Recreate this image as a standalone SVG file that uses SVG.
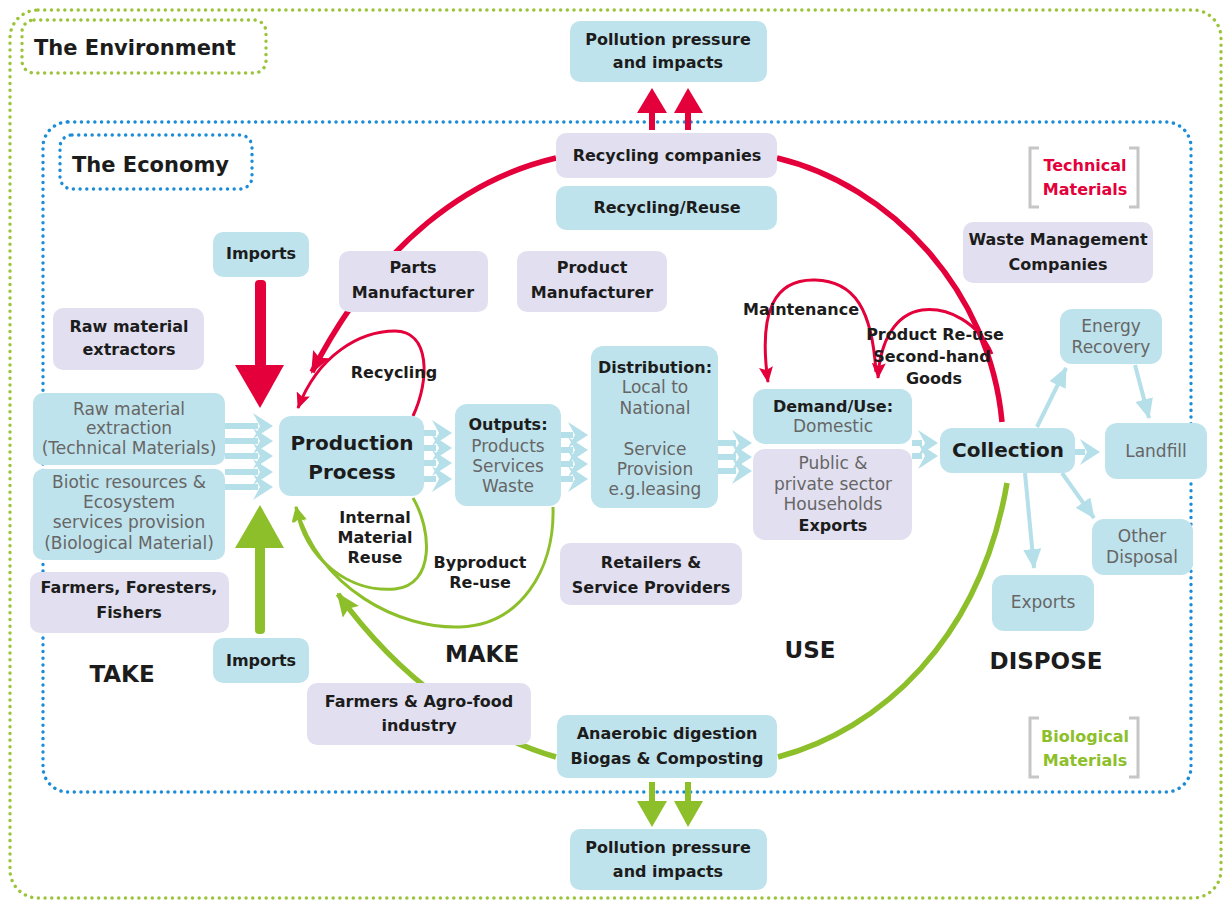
<svg xmlns="http://www.w3.org/2000/svg" xmlns:xlink="http://www.w3.org/1999/xlink" width="1229" height="901" viewBox="0 0 1229 901">
  <style>
    .b { font-family: "DejaVu Sans", "Liberation Sans", sans-serif; font-weight: bold; font-size: 16px; fill: #1c1c1c; text-anchor: middle; }
    .g { font-family: "DejaVu Sans", "Liberation Sans", sans-serif; font-size: 17px; fill: #666666; text-anchor: middle; }
    .big { font-family: "DejaVu Sans", "Liberation Sans", sans-serif; font-weight: bold; font-size: 23px; fill: #1c1c1c; text-anchor: middle; }
    .title { font-family: "DejaVu Sans", "Liberation Sans", sans-serif; font-weight: bold; font-size: 21px; fill: #1c1c1c; }
    .lb { fill: #bfe3ec; }
    .lv { fill: #e2e0f0; }
    .dotg { fill: none; stroke: #9cc43a; stroke-width: 3.4; stroke-linecap: round; stroke-dasharray: 0.1 6.6; }
    .dotb { fill: none; stroke: #1a8cd8; stroke-width: 3.4; stroke-linecap: round; stroke-dasharray: 0.1 6.6; }
    .redT { fill: none; stroke: #e4003a; stroke-width: 5.5; }
    .redt { fill: none; stroke: #e4003a; stroke-width: 3; }
    .grnT { fill: none; stroke: #8dbf2a; stroke-width: 5.5; }
    .grnt { fill: none; stroke: #8dbf2a; stroke-width: 3; }
    .blu { fill: none; stroke: #b5dfe9; stroke-width: 4; }
    .chev { fill: #b5dfe9; }
    .brk { fill: none; stroke: #c6c6c6; stroke-width: 3; }
  </style>
  <defs>
    <polygon id="chev" class="chev" points="0,-13 20,0 0,13 7,0"/>
    <marker id="mRedT" markerUnits="userSpaceOnUse" viewBox="0 0 22 18" markerWidth="22" markerHeight="18" refX="20" refY="9" orient="auto">
      <path d="M0,0 L22,9 L0,18 L4,9 z" fill="#e4003a"/>
    </marker>
    <marker id="mRedt" markerUnits="userSpaceOnUse" viewBox="0 0 16 14" markerWidth="16" markerHeight="14" refX="15" refY="7" orient="auto">
      <path d="M0,0 L16,7 L0,14 L3,7 z" fill="#e4003a"/>
    </marker>
    <marker id="mGrnT" markerUnits="userSpaceOnUse" viewBox="0 0 24 20" markerWidth="24" markerHeight="20" refX="22" refY="10" orient="auto">
      <path d="M0,0 L24,10 L0,20 L4,10 z" fill="#8dbf2a"/>
    </marker>
    <marker id="mGrnt" markerUnits="userSpaceOnUse" viewBox="0 0 16 14" markerWidth="16" markerHeight="14" refX="15" refY="7" orient="auto">
      <path d="M0,0 L16,7 L0,14 L3,7 z" fill="#8dbf2a"/>
    </marker>
    <marker id="mBlu" markerUnits="userSpaceOnUse" viewBox="0 0 20 18" markerWidth="20" markerHeight="18" refX="19" refY="9" orient="auto">
      <path d="M0,0 L20,9 L0,18 z" fill="#b5dfe9"/>
    </marker>
  </defs>

  <rect width="1229" height="901" fill="#ffffff"/>

  <!-- nested system boundaries -->
  <g id="boundaries">
    <rect class="dotg" x="10" y="10" width="1211" height="888" rx="28"/>
    <rect class="dotg" x="22" y="20" width="244" height="53" rx="12"/>
    <text class="title" x="34" y="55">The Environment</text>
    <rect class="dotb" x="43" y="122" width="1148" height="670" rx="25"/>
    <rect class="dotb" x="60" y="135" width="192" height="54" rx="12"/>
    <text class="title" x="72" y="172">The Economy</text>
  </g>

  <!-- material flows -->
  <g id="connectors">
    <!-- technical cycle -->
    <path class="redT" d="M556,158 C470,178 380,240 312,372" marker-end="url(#mRedT)"/>
    <path class="redT" d="M777,158 C890,185 990,290 1002,422"/>
    <path class="redt" d="M413,416 C430,380 430,331 395,331 C360,331 318,355 298,408" marker-end="url(#mRedt)"/>
    <path class="redt" d="M876,372 C872,310 855,281 815,280 C775,279 758,310 768,382" marker-end="url(#mRedt)"/>
    <path class="redt" d="M992,354 C978,322 948,307 922,310 C896,314 880,340 878,378" marker-end="url(#mRedt)"/>
    <!-- imports of technical materials -->
    <rect x="255" y="280" width="11" height="88" rx="4" fill="#e4003a"/>
    <polygon points="235,365 284,365 260,408" fill="#e4003a"/>
    <!-- emissions from recycling -->
    <rect x="649" y="110" width="6" height="20" fill="#e4003a"/>
    <rect x="685" y="110" width="6" height="20" fill="#e4003a"/>
    <polygon points="637,113 652,88 667,113" fill="#e4003a"/>
    <polygon points="674,113 688,88 703,113" fill="#e4003a"/>

    <!-- biological cycle -->
    <path class="grnT" d="M556,757 C480,735 400,680 338,594" marker-end="url(#mGrnT)"/>
    <path class="grnT" d="M778,757 C880,730 980,640 1007,483"/>
    <path class="grnt" d="M413,498 C432,530 435,585 395,589 C350,593 305,560 296,507" marker-end="url(#mGrnt)"/>
    <path class="grnt" d="M553,507 C555,570 520,625 460,627 C400,629 320,590 296,507" marker-end="url(#mGrnt)"/>
    <!-- imports of biological materials -->
    <rect x="255" y="545" width="10" height="89" rx="4" fill="#8dbf2a"/>
    <polygon points="235,548 260,505 284,548" fill="#8dbf2a"/>
    <!-- emissions from digestion -->
    <rect x="649" y="782" width="6" height="22" fill="#8dbf2a"/>
    <rect x="685" y="782" width="6" height="22" fill="#8dbf2a"/>
    <polygon points="637,801 667,801 652,827" fill="#8dbf2a"/>
    <polygon points="674,801 703,801 688,827" fill="#8dbf2a"/>

    <!-- stacked chevron flows along the chain -->
    <g class="chev">
      <rect x="225" y="423" width="33" height="6"/>
      <rect x="225" y="438" width="33" height="6"/>
      <rect x="225" y="453" width="33" height="6"/>
      <rect x="225" y="469" width="33" height="6"/>
      <rect x="225" y="484" width="33" height="6"/>
      <use xlink:href="#chev" x="253" y="426"/>
      <use xlink:href="#chev" x="253" y="441"/>
      <use xlink:href="#chev" x="253" y="456"/>
      <use xlink:href="#chev" x="253" y="472"/>
      <use xlink:href="#chev" x="253" y="487"/>

      <rect x="424" y="430" width="12" height="6"/>
      <rect x="424" y="445" width="12" height="6"/>
      <rect x="424" y="460" width="12" height="6"/>
      <rect x="424" y="476" width="12" height="6"/>
      <use xlink:href="#chev" x="432" y="433"/>
      <use xlink:href="#chev" x="432" y="448"/>
      <use xlink:href="#chev" x="432" y="463"/>
      <use xlink:href="#chev" x="432" y="479"/>

      <rect x="561" y="432" width="12" height="6"/>
      <rect x="561" y="447" width="12" height="6"/>
      <rect x="561" y="461" width="12" height="6"/>
      <rect x="561" y="476" width="12" height="6"/>
      <use xlink:href="#chev" x="568" y="435"/>
      <use xlink:href="#chev" x="568" y="450"/>
      <use xlink:href="#chev" x="568" y="464"/>
      <use xlink:href="#chev" x="568" y="479"/>

      <rect x="718" y="440" width="18" height="6"/>
      <rect x="718" y="454" width="18" height="6"/>
      <rect x="718" y="468" width="18" height="6"/>
      <use xlink:href="#chev" x="732" y="443"/>
      <use xlink:href="#chev" x="732" y="457"/>
      <use xlink:href="#chev" x="732" y="471"/>

      <rect x="912" y="440" width="10" height="6"/>
      <rect x="912" y="453" width="10" height="6"/>
      <use xlink:href="#chev" x="918" y="443"/>
      <use xlink:href="#chev" x="918" y="456"/>

      <rect x="1075" y="449" width="10" height="6"/>
      <use xlink:href="#chev" x="1080" y="452"/>
    </g>

    <!-- end-of-life routes -->
    <line class="blu" x1="1037" y1="427" x2="1066" y2="368" marker-end="url(#mBlu)"/>
    <line class="blu" x1="1135" y1="365" x2="1149" y2="418" marker-end="url(#mBlu)"/>
    <line class="blu" x1="1062" y1="473" x2="1094" y2="518" marker-end="url(#mBlu)"/>
    <line class="blu" x1="1025" y1="473" x2="1034" y2="568" marker-end="url(#mBlu)"/>
  </g>

  <!-- actors and stages -->
  <g id="pollution-top">
    <rect class="lb" x="570" y="21" width="197" height="61" rx="10"/>
    <text class="b" x="668" y="45">Pollution pressure</text>
    <text class="b" x="668" y="68">and impacts</text>
  </g>
  <g id="recycling-companies">
    <rect class="lv" x="556" y="133" width="221" height="45" rx="10"/>
    <text class="b" x="667" y="161">Recycling companies</text>
  </g>
  <g id="recycling-reuse">
    <rect class="lb" x="556" y="186" width="221" height="44" rx="10"/>
    <text class="b" x="667" y="213">Recycling/Reuse</text>
  </g>
  <g id="parts-manufacturer">
    <rect class="lv" x="339" y="251" width="149" height="61" rx="10"/>
    <text class="b" x="413" y="273">Parts</text>
    <text class="b" x="413" y="298">Manufacturer</text>
  </g>
  <g id="product-manufacturer">
    <rect class="lv" x="517" y="251" width="150" height="61" rx="10"/>
    <text class="b" x="592" y="273">Product</text>
    <text class="b" x="592" y="298">Manufacturer</text>
  </g>
  <g id="imports-technical">
    <rect class="lb" x="213" y="232" width="96" height="45" rx="10"/>
    <text class="b" x="261" y="259">Imports</text>
  </g>
  <g id="raw-material-extractors">
    <rect class="lv" x="53" y="308" width="151" height="62" rx="10"/>
    <text class="b" x="129" y="332">Raw material</text>
    <text class="b" x="129" y="355">extractors</text>
  </g>
  <g id="raw-material-extraction">
    <rect class="lb" x="33" y="393" width="192" height="72" rx="10"/>
    <text class="g" x="129" y="415">Raw material</text>
    <text class="g" x="129" y="434">extraction</text>
    <text class="g" x="129" y="454">(Technical Materials)</text>
  </g>
  <g id="biotic-resources">
    <rect class="lb" x="33" y="469" width="192" height="91" rx="10"/>
    <text class="g" x="129" y="488">Biotic resources &amp;</text>
    <text class="g" x="129" y="508">Ecosystem</text>
    <text class="g" x="129" y="528">services provision</text>
    <text class="g" x="129" y="549">(Biological Material)</text>
  </g>
  <g id="farmers-foresters-fishers">
    <rect class="lv" x="30" y="572" width="199" height="61" rx="10"/>
    <text class="b" x="129" y="593">Farmers, Foresters,</text>
    <text class="b" x="129" y="618">Fishers</text>
  </g>
  <g id="imports-biological">
    <rect class="lb" x="213" y="638" width="96" height="45" rx="10"/>
    <text class="b" x="261" y="666">Imports</text>
  </g>
  <g id="production-process">
    <rect class="lb" x="279" y="416" width="145" height="80" rx="12"/>
    <text class="b" x="352" y="450" style="font-size:20px">Production</text>
    <text class="b" x="352" y="479" style="font-size:20px">Process</text>
  </g>
  <g id="outputs">
    <rect class="lb" x="455" y="404" width="106" height="102" rx="12"/>
    <text class="b" x="508" y="430">Outputs:</text>
    <text class="g" x="508" y="452">Products</text>
    <text class="g" x="508" y="472">Services</text>
    <text class="g" x="508" y="492">Waste</text>
  </g>
  <g id="distribution">
    <rect class="lb" x="591" y="346" width="127" height="162" rx="12"/>
    <text class="b" x="655" y="373">Distribution:</text>
    <text class="g" x="655" y="393">Local to</text>
    <text class="g" x="655" y="414">National</text>
    <text class="g" x="655" y="455">Service</text>
    <text class="g" x="655" y="475">Provision</text>
    <text class="g" x="655" y="495">e.g.leasing</text>
  </g>
  <g id="demand-use">
    <rect class="lb" x="753" y="389" width="159" height="55" rx="12"/>
    <text class="b" x="833" y="412">Demand/Use:</text>
    <text class="g" x="833" y="432">Domestic</text>
  </g>
  <g id="public-private">
    <rect class="lv" x="753" y="449" width="159" height="91" rx="12"/>
    <text class="g" x="833" y="469">Public &amp;</text>
    <text class="g" x="833" y="490">private sector</text>
    <text class="g" x="833" y="510">Households</text>
    <text class="b" x="833" y="531">Exports</text>
  </g>
  <g id="retailers">
    <rect class="lv" x="560" y="543" width="182" height="62" rx="10"/>
    <text class="b" x="651" y="568">Retailers &amp;</text>
    <text class="b" x="651" y="593">Service Providers</text>
  </g>
  <g id="collection">
    <rect class="lb" x="940" y="428" width="135" height="45" rx="12"/>
    <text class="b" x="1008" y="457" style="font-size:20px">Collection</text>
  </g>
  <g id="energy-recovery">
    <rect class="lb" x="1060" y="309" width="102" height="55" rx="12"/>
    <text class="g" x="1111" y="332">Energy</text>
    <text class="g" x="1111" y="353">Recovery</text>
  </g>
  <g id="landfill">
    <rect class="lb" x="1105" y="423" width="102" height="56" rx="12"/>
    <text class="g" x="1156" y="457">Landfill</text>
  </g>
  <g id="other-disposal">
    <rect class="lb" x="1092" y="519" width="101" height="56" rx="12"/>
    <text class="g" x="1142" y="542">Other</text>
    <text class="g" x="1142" y="563">Disposal</text>
  </g>
  <g id="exports-out">
    <rect class="lb" x="992" y="575" width="102" height="56" rx="12"/>
    <text class="g" x="1043" y="608">Exports</text>
  </g>
  <g id="waste-management">
    <rect class="lv" x="963" y="222" width="190" height="61" rx="10"/>
    <text class="b" x="1058" y="245">Waste Management</text>
    <text class="b" x="1058" y="270">Companies</text>
  </g>
  <g id="farmers-agrofood">
    <rect class="lv" x="307" y="683" width="224" height="62" rx="10"/>
    <text class="b" x="419" y="707">Farmers &amp; Agro-food</text>
    <text class="b" x="419" y="731">industry</text>
  </g>
  <g id="anaerobic-digestion">
    <rect class="lb" x="557" y="715" width="220" height="63" rx="10"/>
    <text class="b" x="667" y="739">Anaerobic digestion</text>
    <text class="b" x="667" y="764">Biogas &amp; Composting</text>
  </g>
  <g id="pollution-bottom">
    <rect class="lb" x="570" y="829" width="197" height="61" rx="10"/>
    <text class="b" x="668" y="853">Pollution pressure</text>
    <text class="b" x="668" y="877">and impacts</text>
  </g>

  <!-- legend brackets -->
  <g id="legend-technical">
    <path class="brk" d="M1039,148 H1030 V207 H1039"/>
    <path class="brk" d="M1129,148 H1138 V207 H1129"/>
    <text class="b" x="1085" y="171" style="fill:#e4003a">Technical</text>
    <text class="b" x="1085" y="195" style="fill:#e4003a">Materials</text>
  </g>
  <g id="legend-biological">
    <path class="brk" d="M1039,718 H1030 V777 H1039"/>
    <path class="brk" d="M1129,718 H1138 V777 H1129"/>
    <text class="b" x="1085" y="742" style="fill:#8dbf2a">Biological</text>
    <text class="b" x="1085" y="766" style="fill:#8dbf2a">Materials</text>
  </g>

  <!-- loop labels and stage names -->
  <g id="labels">
    <text class="b" x="394" y="378">Recycling</text>
    <text class="b" x="375" y="523">Internal</text>
    <text class="b" x="375" y="543">Material</text>
    <text class="b" x="375" y="563">Reuse</text>
    <text class="b" x="480" y="568">Byproduct</text>
    <text class="b" x="480" y="588">Re-use</text>
    <text class="b" x="801" y="315">Maintenance</text>
    <text class="b" x="935" y="340">Product Re-use</text>
    <text class="b" x="932" y="362">Second-hand</text>
    <text class="b" x="934" y="384">Goods</text>
    <text class="big" x="122" y="682">TAKE</text>
    <text class="big" x="482" y="662">MAKE</text>
    <text class="big" x="810" y="658">USE</text>
    <text class="big" x="1046" y="669">DISPOSE</text>
  </g>
</svg>
